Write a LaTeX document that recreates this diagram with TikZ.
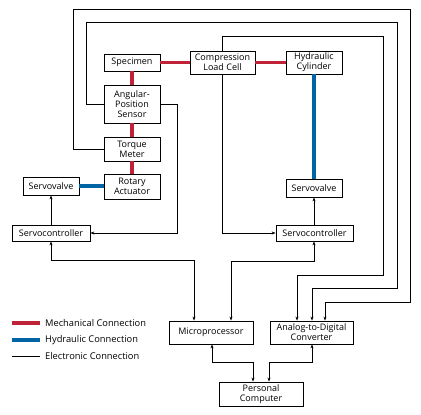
\documentclass[tikz,border=0pt]{standalone}
\usepackage{fontspec}
\setmainfont{Open Sans}
\usetikzlibrary{arrows.meta}
\definecolor{mech}{RGB}{190,35,55}
\definecolor{hyd}{RGB}{0,100,165}
\tikzset{
  box/.style={draw=black, line width=0.8pt, fill=white, inner sep=0pt, align=center, font=\fontsize{9}{10}\selectfont},
  mechline/.style={draw=mech, line width=3.8pt},
  hydline/.style={draw=hyd, line width=3.4pt},
  elec/.style={draw=black, line width=0.8pt},
  tip/.style={-{Stealth[length=4pt,width=3pt]}},
  tips/.style={{Stealth[length=4pt,width=3pt]}-{Stealth[length=4pt,width=3pt]}},
  legtext/.style={anchor=west, inner sep=0pt, font=\fontsize{9.3}{10}\selectfont}
}
\begin{document}
\begin{tikzpicture}[x=1pt,y=-1pt]
\useasboundingbox (0,0) rectangle (421,415);
% electronic connections (behind boxes)
\coordinate (c1) at (73,9);
\coordinate (c2) at (410,9);
\coordinate (c3) at (86,22.7);
\coordinate (c4) at (397,22.7);
\coordinate (c5) at (222.5,36);
\coordinate (c6) at (383,36);
% boxes
\node[box, minimum width=56pt, minimum height=17pt] (spec) at (132,62.5) {Specimen};
\node[box, minimum width=56pt, minimum height=38pt] (aps) at (132,104) {Angular-\\Position\\Sensor};
\node[box, minimum width=56pt, minimum height=24pt] (torque) at (132,149) {Torque\\Meter};
\node[box, minimum width=56pt, minimum height=25pt] (rotary) at (132,186.5) {Rotary\\Actuator};
\node[box, minimum width=56pt, minimum height=18pt] (sv1) at (51,186) {Servovalve};
\node[box, minimum width=78pt, minimum height=16pt] (sc1) at (51,233) {Servocontroller};
\node[box, minimum width=65pt, minimum height=23pt] (lc) at (222.5,62.5) {Compression\\Load Cell};
\node[box, minimum width=56pt, minimum height=23pt] (hc) at (314,62.5) {Hydraulic\\Cylinder};
\node[box, minimum width=56pt, minimum height=18pt] (sv2) at (314,188) {Servovalve};
\node[box, minimum width=77pt, minimum height=16pt] (sc2) at (314.5,233) {Servocontroller};
\node[box, minimum width=84pt, minimum height=23pt] (micro) at (211,332.5) {Microprocessor};
\node[box, minimum width=83pt, minimum height=23pt] (adc) at (311.5,332.5) {Analog-to-Digital\\Converter};
\node[box, minimum width=84pt, minimum height=24pt] (pc) at (261,394) {Personal\\Computer};
% mechanical
\draw[mechline] (spec.east) -- (lc.west);
\draw[mechline] (lc.east) -- (hc.west);
\draw[mechline] (spec.south) -- (aps.north);
\draw[mechline] (aps.south) -- (torque.north);
\draw[mechline] (torque.south) -- (rotary.north);
% hydraulic
\draw[hydline] (sv1.east) -- (rotary.west |- sv1.east);
\draw[hydline] (hc.south) -- (sv2.north);
% electronic
\draw[elec, tip] (torque.west) -| (c1) -- (c2) |- (325,302) -- (adc.north -| 325,0);
\draw[elec, tip] (aps.west) -| (c3) -- (c4) |- (312,288) -- (adc.north -| 312,0);
\draw[elec, tip] (lc.north) -- (c5) -- (c6) |- (297,275) -- (adc.north -| 297,0);
\draw[elec, tip] (lc.south) |- (sc2.west);
\draw[elec, tip] (aps.east) -| (177,233) -- (sc1.east);
\draw[elec, tip] (sc1.north) -- (sv1.south);
\draw[elec, tip] (sc2.north -| sv2.south) -- (sv2.south);
\draw[elec, tips] (sc1.south) |- (194,260) -- (micro.north -| 194,0);
\draw[elec, tips] (sc2.south -| 314,0) |- (231,261) -- (micro.north -| 231,0);
\draw[elec, tips] (micro.south -| 212,0) |- (253,362) -- (pc.north -| 253,0);
\draw[elec, tips] (adc.south -| 312,0) |- (269,362) -- (pc.north -| 269,0);
% legend
\coordinate (l1a) at (12,323); \coordinate (l1b) at (40,323);
\coordinate (l2a) at (12,340); \coordinate (l2b) at (40,340);
\coordinate (l3a) at (12,356); \coordinate (l3b) at (40,356);
\draw[mech, line width=3.4pt] (l1a) -- (l1b);
\draw[hyd, line width=3.4pt] (l2a) -- (l2b);
\draw[elec] (l3a) -- (l3b);
\node[legtext] (t1) at (45,323) {Mechanical Connection};
\node[legtext] (t2) at (45,340) {Hydraulic Connection};
\node[legtext] (t3) at (45,356) {Electronic Connection};
\end{tikzpicture}
\end{document}
